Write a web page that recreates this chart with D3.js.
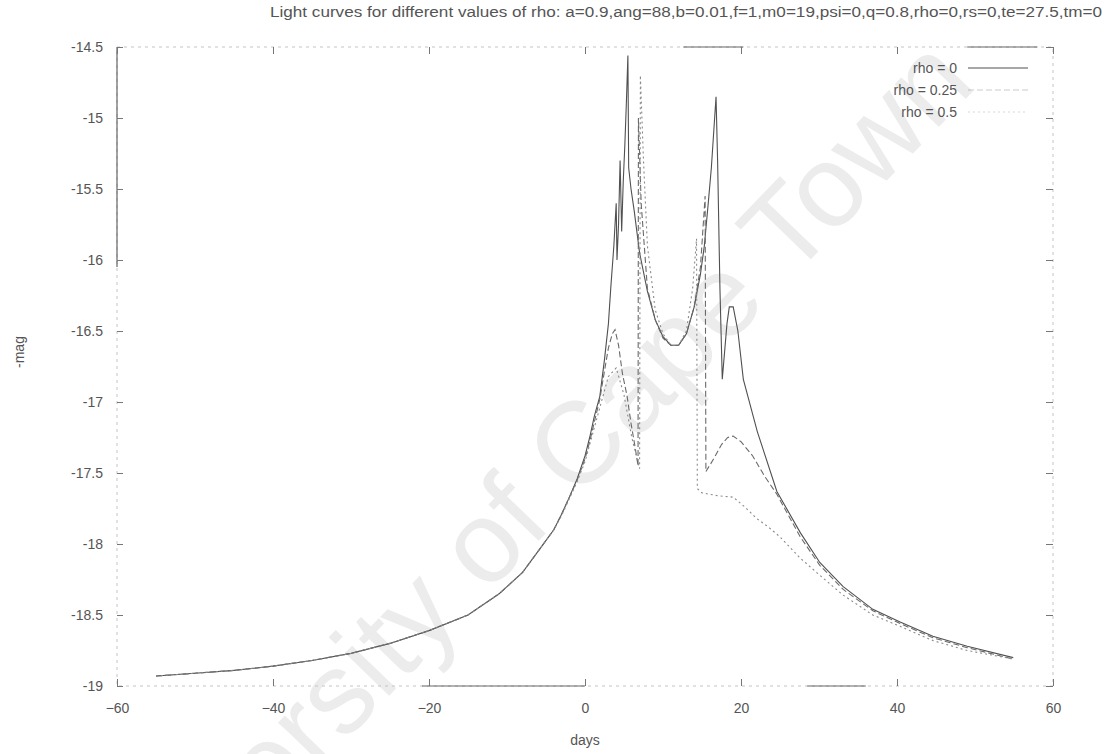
<!DOCTYPE html>
<html>
<head>
<meta charset="utf-8">
<script src="https://cdn.jsdelivr.net/npm/d3@7"></script>
<style>
  html, body { margin: 0; padding: 0; background: #fff; }
  svg { display: block; font-family: "Liberation Sans", Arial, sans-serif; }
</style>
</head>
<body>
<svg id="chart" width="1105" height="754"></svg>
<script>
// ---- data: days vs -mag for three source sizes ----
const rhoLabels = ["rho = 0", "rho = 0.25", "rho = 0.5"];

const rho0 = [
  [-55,-18.93],[-50,-18.91],[-45,-18.89],[-40,-18.86],[-35,-18.82],[-30,-18.77],
  [-25,-18.70],[-20,-18.61],[-15,-18.50],[-11,-18.35],[-8,-18.20],[-6,-18.05],
  [-4,-17.90],[-3,-17.79],[-2,-17.67],[-1,-17.54],[0,-17.38],[0.6,-17.25],
  [1.2,-17.10],[1.9,-16.96],[2.5,-16.70],[3.0,-16.45],[3.3,-16.20],[3.7,-15.90],
  [4.0,-15.60],[4.1,-16.00],[4.3,-15.75],[4.5,-15.30],[4.7,-15.80],[4.9,-15.45],
  [5.1,-15.20],[5.3,-14.90],[5.5,-14.56],[5.6,-15.35],[5.9,-15.50],[6.3,-15.65],
  [7,-15.95],[8,-16.22],[9,-16.42],[10,-16.54],[11,-16.60],[12,-16.60],[13,-16.52],
  [14,-16.33],[14.8,-16.10],[15.3,-15.90],[15.8,-15.60],[16.2,-15.35],[16.5,-15.10],
  [16.8,-14.85],[17.0,-15.30],[17.3,-16.20],[17.6,-16.84],[18.2,-16.45],[18.5,-16.33],
  [19.0,-16.33],[19.6,-16.50],[20.3,-16.84],[22.1,-17.21],[24.6,-17.63],[27.6,-17.92],
  [30.1,-18.13],[33.1,-18.30],[36.9,-18.46],[40.4,-18.55],[44.6,-18.65],[49,-18.72],
  [54.9,-18.80]
];

const rho025 = [
  [-55,-18.93],[-50,-18.91],[-45,-18.89],[-40,-18.86],[-35,-18.82],[-30,-18.77],
  [-25,-18.70],[-20,-18.61],[-15,-18.50],[-11,-18.35],[-8,-18.20],[-6,-18.05],
  [-4,-17.90],[-3,-17.79],[-2,-17.67],[-1,-17.55],[0,-17.40],[0.6,-17.28],
  [1.2,-17.14],[1.9,-16.98],[2.5,-16.78],[3.0,-16.62],[3.5,-16.52],[3.85,-16.49],
  [4.3,-16.60],[4.8,-16.80],[5.4,-16.96],[5.9,-17.15],[6.4,-17.31],[6.8,-17.45],
  [6.85,-15.00],[7.2,-15.60],[7.6,-15.90],[8,-16.20],[9,-16.42],[10,-16.55],
  [11,-16.60],[12,-16.60],[13,-16.52],[14,-16.33],[14.8,-16.05],[15.4,-15.55],
  [15.5,-17.49],[16.5,-17.40],[17.5,-17.30],[18.3,-17.25],[19.0,-17.24],[20.0,-17.28],
  [21.5,-17.38],[23,-17.52],[24.6,-17.65],[27.6,-17.95],[30.1,-18.15],[33.1,-18.32],
  [36.9,-18.47],[40.4,-18.56],[44.6,-18.66],[49,-18.73],[54.9,-18.81]
];

const rho05 = [
  [-55,-18.93],[-50,-18.91],[-45,-18.89],[-40,-18.86],[-35,-18.82],[-30,-18.77],
  [-25,-18.70],[-20,-18.61],[-15,-18.50],[-11,-18.35],[-8,-18.20],[-6,-18.05],
  [-4,-17.90],[-3,-17.80],[-2,-17.68],[-1,-17.56],[0,-17.42],[1,-17.22],
  [2,-17.02],[3,-16.82],[4,-16.76],[5,-16.95],[6,-17.25],[7.0,-17.47],
  [7.1,-14.70],[7.5,-15.30],[8,-15.90],[9,-16.35],[10,-16.52],[11,-16.60],
  [12,-16.60],[13,-16.50],[13.8,-16.20],[14.3,-15.85],[14.4,-17.61],[15,-17.64],
  [17,-17.66],[19,-17.67],[20.5,-17.74],[22,-17.82],[23.5,-17.88],[25,-17.95],
  [27.6,-18.10],[30.1,-18.22],[33.1,-18.36],[36.9,-18.50],[40.4,-18.58],
  [44.6,-18.68],[49,-18.75],[54.9,-18.81]
];

const xTicks = [-60, -40, -20, 0, 20, 40, 60];
const yTicks = [-14.5, -15, -15.5, -16, -16.5, -17, -17.5, -18, -18.5, -19];

const titleText = "Light curves for different values of rho: a=0.9,ang=88,b=0.01,f=1,m0=19,psi=0,q=0.8,rho=0,rs=0,te=27.5,tm=0";
const xLabel = "days";
const yLabel = "-mag";
const watermark = "University of Cape Town";

// ---- drawing ----
const svg = d3.select("#chart");
const x = d3.scaleLinear().domain([-60, 60]).range([117, 1053]);
const y = d3.scaleLinear().domain([-19, -14.5]).range([686, 47]);

// faint diagonal watermark behind the plot
svg.append("text")
  .attr("transform", "translate(978,86) rotate(-46)")
  .attr("text-anchor", "end")
  .attr("font-size", 116)
  .attr("fill", "#ececec")
  .text(watermark);

// frame (thin, broken grey border as printed)
const [x0, x1] = x.range();
const [yb, yt] = y.range();
svg.append("rect")
  .attr("x", x0).attr("y", yt)
  .attr("width", x1 - x0).attr("height", yb - yt)
  .attr("fill", "none")
  .attr("stroke", "#c4c4c4")
  .attr("stroke-width", 1)
  .attr("stroke-dasharray", "3,4");

// solid stretches of the border
const leftSolid = [[-16.05, -14.5]];
const topSolid = [[12.6, 20.3], [49, 58]];
const bottomSolid = [[-20.9, 0], [28.5, 36]];
const border = svg.append("g").attr("stroke", "#666").attr("stroke-width", 1.2);
leftSolid.forEach(([a, b]) => border.append("line")
  .attr("x1", x0).attr("x2", x0).attr("y1", y(a)).attr("y2", y(b)));
topSolid.forEach(([a, b]) => border.append("line")
  .attr("x1", x(a)).attr("x2", x(b)).attr("y1", yt).attr("y2", yt));
bottomSolid.forEach(([a, b]) => border.append("line")
  .attr("x1", x(a)).attr("x2", x(b)).attr("y1", yb).attr("y2", yb));

// axes with inward ticks on all four sides
const tickStyle = g => {
  g.select(".domain").remove();
  g.selectAll(".tick line").attr("stroke", "#777");
  g.selectAll(".tick text").attr("fill", "#555").attr("font-size", 14)
    .attr("font-family", "Liberation Sans, Arial, sans-serif");
};
svg.append("g").attr("transform", `translate(0,${yb})`)
  .call(d3.axisBottom(x).tickValues(xTicks).tickSize(-7).tickPadding(17)
    .tickFormat(d3.format("d")))
  .call(tickStyle);
svg.append("g").attr("transform", `translate(0,${yt})`)
  .call(d3.axisTop(x).tickValues(xTicks).tickSize(-7).tickFormat(""))
  .call(tickStyle);
svg.append("g").attr("transform", `translate(${x0},0)`)
  .call(d3.axisLeft(y).tickValues(yTicks).tickSize(-6).tickPadding(14)
    .tickFormat(d => String(d)))
  .call(tickStyle);
svg.append("g").attr("transform", `translate(${x1},0)`)
  .call(d3.axisRight(y).tickValues(yTicks).tickSize(-7).tickFormat(""))
  .call(tickStyle);

// axis titles and heading
svg.append("text")
  .attr("x", 270).attr("y", 17)
  .attr("font-size", 14).attr("fill", "#555")
  .attr("textLength", 832).attr("lengthAdjust", "spacingAndGlyphs")
  .text(titleText);
svg.append("text")
  .attr("x", (x0 + x1) / 2).attr("y", 745)
  .attr("text-anchor", "middle").attr("font-size", 14).attr("fill", "#555")
  .text(xLabel);
svg.append("text")
  .attr("transform", "translate(24,352) rotate(-90)")
  .attr("text-anchor", "middle").attr("font-size", 14).attr("fill", "#555")
  .text(yLabel);

// curves
const series = [
  { data: rho0,   stroke: "#505050", width: 1.1, dash: null },
  { data: rho025, stroke: "#6a6a6a", width: 1.1, dash: "6,3" },
  { data: rho05,  stroke: "#8a8a8a", width: 1.1, dash: "2,3" }
];
const line = d3.line().x(d => x(d[0])).y(d => y(d[1]));
const plot = svg.append("g");
series.forEach(s => {
  plot.append("path")
    .datum(s.data)
    .attr("d", line)
    .attr("fill", "none")
    .attr("stroke", s.stroke)
    .attr("stroke-width", s.width)
    .attr("stroke-dasharray", s.dash);
});

// key, top right
const legend = svg.append("g");
rhoLabels.forEach((lab, i) => {
  const ly = 68 + i * 22;
  legend.append("text")
    .attr("x", 957).attr("y", ly).attr("dy", "0.35em")
    .attr("text-anchor", "end").attr("font-size", 14).attr("fill", "#555")
    .text(lab);
  legend.append("line")
    .attr("x1", 968).attr("x2", 1028).attr("y1", ly).attr("y2", ly)
    .attr("stroke", series[i].stroke)
    .attr("stroke-width", series[i].width)
    .attr("stroke-dasharray", series[i].dash)
    .attr("stroke-opacity", i === 0 ? 1 : 0.35);
});
</script>
</body>
</html>
